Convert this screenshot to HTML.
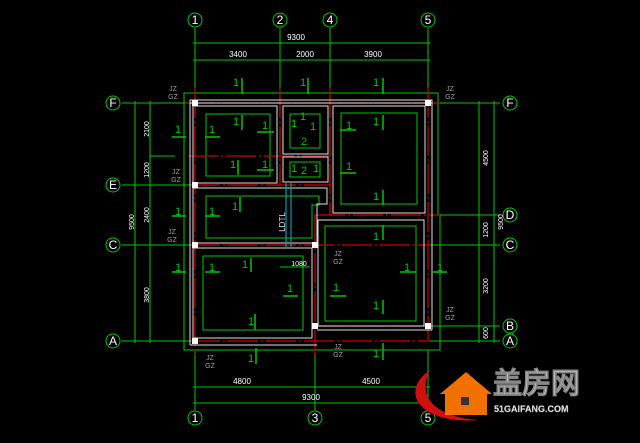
<!DOCTYPE html>
<html><head><meta charset="utf-8"><style>
html,body{margin:0;padding:0;background:#000;width:640px;height:443px;overflow:hidden}
svg{display:block}
text{font-family:"Liberation Sans",sans-serif}
</style></head><body>
<svg width="640" height="443" viewBox="0 0 640 443" xmlns="http://www.w3.org/2000/svg">
<rect width="640" height="443" fill="#000"/>
<g stroke="#00c800" stroke-width="1" fill="none">
 <line x1="195" y1="28" x2="195" y2="95"/>
 <line x1="280" y1="28" x2="280" y2="95"/>
 <line x1="330" y1="28" x2="330" y2="95"/>
 <line x1="428" y1="28" x2="428" y2="95"/>
 <line x1="195" y1="350" x2="195" y2="410"/>
 <line x1="315" y1="350" x2="315" y2="410"/>
 <line x1="428" y1="350" x2="428" y2="410"/>
 <line x1="193" y1="43" x2="430" y2="43"/>
 <line x1="193" y1="60" x2="430" y2="60"/>
 <line x1="193" y1="387" x2="430" y2="387"/>
 <line x1="193" y1="403" x2="430" y2="403"/>
 <line x1="122" y1="103" x2="185" y2="103"/>
 <line x1="122" y1="185" x2="190" y2="185"/>
 <line x1="122" y1="245" x2="190" y2="245"/>
 <line x1="122" y1="341" x2="190" y2="341"/>
 <line x1="150" y1="156" x2="175" y2="156"/>
 <line x1="440" y1="103" x2="500" y2="103"/>
 <line x1="440" y1="215" x2="500" y2="215"/>
 <line x1="430" y1="245" x2="500" y2="245"/>
 <line x1="430" y1="326" x2="500" y2="326"/>
 <line x1="430" y1="341" x2="500" y2="341"/>
 <line x1="135" y1="101" x2="135" y2="343"/>
 <line x1="150" y1="101" x2="150" y2="343"/>
 <line x1="479" y1="101" x2="479" y2="343"/>
 <line x1="494" y1="101" x2="494" y2="343"/>
 <path d="M184 93 H438 V215 H440 V350 H184 Z"/>
 <circle cx="195" cy="20" r="7"/><circle cx="280" cy="20" r="7"/><circle cx="330" cy="20" r="7"/><circle cx="428" cy="20" r="7"/>
 <circle cx="195" cy="418" r="7"/><circle cx="315" cy="418" r="7"/><circle cx="428" cy="418" r="7"/>
 <circle cx="113" cy="103" r="7"/><circle cx="113" cy="185" r="7"/><circle cx="113" cy="245" r="7"/><circle cx="113" cy="341" r="7"/>
 <circle cx="510" cy="103" r="7"/><circle cx="510" cy="215" r="7"/><circle cx="510" cy="245" r="7"/><circle cx="510" cy="326" r="7"/><circle cx="510" cy="341" r="7"/>
 <rect x="206" y="114" width="64" height="62"/>
 <rect x="290" y="114" width="30" height="34"/>
 <rect x="290" y="162" width="30" height="15"/>
 <rect x="341" y="113" width="76" height="91"/>
 <path d="M206 196 H319 V205 H312 V238 H206 Z"/>
 <rect x="325" y="226" width="91" height="95"/>
 <rect x="203" y="256" width="100" height="74"/>
 <line x1="280" y1="267" x2="310" y2="267"/>
</g>
<!-- section ticks -->
<g stroke="#00c800" stroke-width="1.5">
 <line x1="242" y1="78" x2="242" y2="94"/><line x1="308" y1="78" x2="308" y2="94"/><line x1="383" y1="78" x2="383" y2="94"/>
 <line x1="242" y1="115" x2="242" y2="130"/><line x1="383" y1="115" x2="383" y2="130"/>
 <line x1="238" y1="160" x2="238" y2="175"/><line x1="383" y1="190" x2="383" y2="205"/>
 <line x1="240" y1="197" x2="240" y2="212"/><line x1="251" y1="258" x2="251" y2="272"/>
 <line x1="255" y1="314" x2="255" y2="330"/><line x1="383" y1="225" x2="383" y2="240"/>
 <line x1="383" y1="300" x2="383" y2="314"/><line x1="383" y1="343" x2="383" y2="360"/>
 <line x1="256" y1="348" x2="256" y2="364"/>
 <line x1="172" y1="137" x2="186" y2="137"/><line x1="205" y1="137" x2="220" y2="137"/>
 <line x1="257" y1="132" x2="274" y2="132"/><line x1="257" y1="170" x2="274" y2="170"/>
 <line x1="172" y1="216" x2="186" y2="216"/><line x1="205" y1="216" x2="220" y2="216"/>
 <line x1="172" y1="272" x2="186" y2="272"/><line x1="205" y1="272" x2="220" y2="272"/>
 <line x1="283" y1="296" x2="298" y2="296"/><line x1="340" y1="130" x2="356" y2="130"/>
 <line x1="340" y1="173" x2="356" y2="173"/><line x1="330" y1="296" x2="346" y2="296"/>
 <line x1="400" y1="272" x2="416" y2="272"/><line x1="433" y1="272" x2="447" y2="272"/>
</g>
<g stroke="#d00000" stroke-width="1.2" fill="none" stroke-dasharray="30 3 2 3">
 <line x1="185" y1="103" x2="440" y2="103"/>
 <line x1="188" y1="156" x2="330" y2="156"/>
 <line x1="190" y1="185" x2="330" y2="185"/>
 <line x1="315" y1="215" x2="440" y2="215"/>
 <line x1="190" y1="245" x2="430" y2="245"/>
 <line x1="315" y1="326" x2="430" y2="326"/>
 <line x1="190" y1="341" x2="430" y2="341"/>
 <line x1="195" y1="88" x2="195" y2="355"/>
 <line x1="280" y1="88" x2="280" y2="185"/>
 <line x1="330" y1="88" x2="330" y2="215"/>
 <line x1="315" y1="215" x2="315" y2="355"/>
 <line x1="428" y1="88" x2="428" y2="340"/>
</g>
<g stroke="#e0e0e0" stroke-width="1" fill="none">
 <rect x="190" y="100" width="242" height="3"/>
 <line x1="190" y1="100" x2="190" y2="345"/>
 <line x1="432" y1="100" x2="432" y2="330"/>
 <rect x="193" y="106" width="84" height="77"/>
 <rect x="283" y="106" width="45" height="48"/>
 <rect x="283" y="157" width="45" height="25"/>
 <rect x="333" y="106" width="92" height="107"/>
 <path d="M193 188 H327 V204 H317 V243 H193 Z"/>
 <rect x="318" y="220" width="106" height="106"/>
 <rect x="193" y="248" width="119" height="90"/>
 <line x1="190" y1="345" x2="317" y2="345"/>
 <line x1="317" y1="330" x2="432" y2="330"/>
</g>
<line x1="286" y1="183" x2="286" y2="248" stroke="#00a0b0" stroke-width="1.2"/>
<line x1="291" y1="183" x2="291" y2="248" stroke="#00a0b0" stroke-width="1.2"/>
<g fill="#fff">
 <rect x="192" y="100" width="6" height="6"/><rect x="425" y="100" width="6" height="6"/>
 <rect x="192" y="182" width="6" height="6"/><rect x="192" y="242" width="6" height="6"/>
 <rect x="312" y="242" width="6" height="6"/><rect x="192" y="338" width="6" height="6"/>
 <rect x="312" y="323" width="6" height="6"/><rect x="425" y="323" width="6" height="6"/>
</g>
<g fill="#fff" font-size="8" text-anchor="middle">
 <text x="296" y="40">9300</text>
 <text x="238" y="57">3400</text><text x="305" y="57">2000</text><text x="373" y="57">3900</text>
 <text x="242" y="384">4800</text><text x="371" y="384">4500</text><text x="311" y="400">9300</text>
 <text x="299" y="266" font-size="7">1080</text>
</g>
<g fill="#fff" font-size="7" text-anchor="middle">
 <text transform="translate(149,129) rotate(-90)">2100</text>
 <text transform="translate(149,170) rotate(-90)">1200</text>
 <text transform="translate(149,215) rotate(-90)">2400</text>
 <text transform="translate(149,295) rotate(-90)">3800</text>
 <text transform="translate(134,222) rotate(-90)">9500</text>
 <text transform="translate(488,158) rotate(-90)">4500</text>
 <text transform="translate(488,230) rotate(-90)">1200</text>
 <text transform="translate(488,286) rotate(-90)">3200</text>
 <text transform="translate(488,333) rotate(-90)">600</text>
 <text transform="translate(503,222) rotate(-90)">9500</text>
</g>
<g fill="#fff" font-family="Liberation Serif" font-size="12" text-anchor="middle">
 <text x="195" y="24">1</text><text x="280" y="24">2</text><text x="330" y="24">4</text><text x="428" y="24">5</text>
 <text x="195" y="422">1</text><text x="315" y="422">3</text><text x="428" y="422">5</text>
 <text x="113" y="107">F</text><text x="113" y="189">E</text><text x="113" y="249">C</text><text x="113" y="345">A</text>
 <text x="510" y="107">F</text><text x="510" y="219">D</text><text x="510" y="249">C</text><text x="510" y="330">B</text><text x="510" y="345">A</text>
</g>
<g fill="#a0a0a0" font-size="7" text-anchor="middle" stroke="none">
 <text x="173" y="91">JZ</text><text x="173" y="99">GZ</text>
 <text x="450" y="91">JZ</text><text x="450" y="99">GZ</text>
 <text x="176" y="174">JZ</text><text x="176" y="182">GZ</text>
 <text x="172" y="234">JZ</text><text x="172" y="242">GZ</text>
 <text x="338" y="256">JZ</text><text x="338" y="264">GZ</text>
 <text x="450" y="312">JZ</text><text x="450" y="320">GZ</text>
 <text x="210" y="360">JZ</text><text x="210" y="368">GZ</text>
 <text x="338" y="349">JZ</text><text x="338" y="357">GZ</text>
 <text transform="translate(285,222) rotate(-90)" fill="#e0e0e0" font-size="8">LDTL</text>
</g>
<g fill="#00c800" font-size="11" stroke="none" text-anchor="middle">
 <text x="236" y="86">1</text><text x="303" y="86">1</text><text x="376" y="86">1</text>
 <text x="178" y="133">1</text><text x="212" y="133">1</text><text x="236" y="125">1</text><text x="265" y="129">1</text>
 <text x="233" y="168">1</text><text x="265" y="168">1</text>
 <text x="294" y="127">1</text><text x="303" y="120">1</text><text x="313" y="130">1</text><text x="304" y="145">2</text>
 <text x="294" y="172">1</text><text x="304" y="174">2</text><text x="316" y="172">1</text>
 <text x="349" y="129">1</text><text x="376" y="125">1</text><text x="349" y="170">1</text><text x="376" y="200">1</text>
 <text x="178" y="215">1</text><text x="212" y="215">1</text><text x="235" y="210">1</text>
 <text x="178" y="271">1</text><text x="212" y="271">1</text><text x="245" y="268">1</text><text x="290" y="292">1</text><text x="251" y="325">1</text>
 <text x="376" y="240">1</text><text x="407" y="271">1</text><text x="440" y="271">1</text><text x="336" y="291">1</text><text x="376" y="309">1</text>
 <text x="376" y="357">1</text><text x="251" y="362">1</text>
</g>
<path d="M430 370 C398 392 420 425 480 420 C440 418 415 400 430 370 Z" fill="#d01010"/>
<path d="M440 394 L466 372 L492 394 L487 394 L487 415 L445 415 L445 394 Z" fill="#f07000"/>
<rect x="461" y="397" width="8" height="8" fill="#333"/>
<text x="493" y="393" font-family="Liberation Sans,'Noto Sans CJK SC',sans-serif" font-size="29" font-weight="bold" fill="#fff" stroke="#888" stroke-width="0.8">盖房网</text>
<text x="494" y="412" font-size="9" font-weight="bold" fill="#fff" stroke="#888" stroke-width="0.4">51GAIFANG.COM</text>
</svg>
</body></html>
